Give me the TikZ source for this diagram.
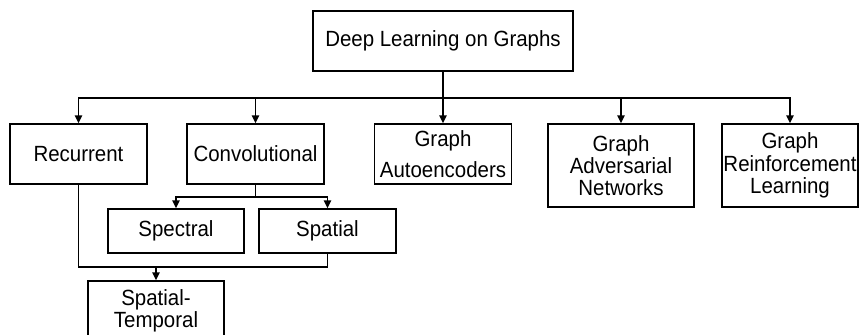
\documentclass[tikz,border=0pt]{standalone}
\usepackage{fontspec}
\setmainfont{Liberation Sans}[FakeStretch=0.93]
\usetikzlibrary{arrows.meta}

\tikzset{
    taxbox/.style={draw, line width=1.1pt, align=center, inner sep=0pt,
        font=\fontsize{16.5}{16.5}\selectfont},
    link/.style={line width=1.1pt},
    linkarr/.style={line width=1.1pt, -{Triangle[length=6pt,width=5.5pt]}}
}

\begin{document}
\begin{tikzpicture}[x=0.75pt,y=-0.75pt]
        \useasboundingbox (0,0) rectangle (859,335);

        \node[taxbox, minimum width=195pt, minimum height=45pt] (top) at (443,41) {Deep Learning on Graphs};

        \node[taxbox, minimum width=102.75pt, minimum height=45pt] (rec) at (78.5,154) {Recurrent};
        \node[taxbox, minimum width=102.75pt, minimum height=45pt] (conv) at (255.5,154) {Convolutional};
        \node[taxbox, minimum width=102.75pt, minimum height=45pt,
            font=\fontsize{16.5}{23}\selectfont] (ae) at (443,154) {Graph\\Autoencoders};
        \node[taxbox, minimum width=109.5pt, minimum height=62.25pt] (adv) at (621,165.5) {Graph\\Adversarial\\Networks};
        \node[taxbox, minimum width=102pt, minimum height=62.25pt,
            font=\fontsize{16.5}{17}\selectfont] (rl) at (790,165.5) {Graph\\Reinforcement\\Learning};

        \node[taxbox, minimum width=102pt, minimum height=33pt] (spec) at (176,231) {Spectral};
        \node[taxbox, minimum width=102.75pt, minimum height=33pt] (spat) at (327.5,231) {Spatial};

        \node[taxbox, minimum width=102pt, minimum height=45pt] (st) at (156,311) {Spatial-\\Temporal};

        \coordinate (bus) at (443,98);
        \coordinate (cbus) at (255.5,197);
        \coordinate (sbus) at (156,267);

        \foreach \n in {rec, conv, ae, adv, rl}
            \draw[linkarr] (top.south) -- (bus) -| (\n.north);

        \foreach \n in {spec, spat}
            \draw[linkarr] (conv.south) -- (cbus) -| (\n.north);

        \draw[link] (rec.south) |- (sbus) -| (spat.south);
        \draw[linkarr] (sbus) -- (st.north);
    \end{tikzpicture}
\end{document}
